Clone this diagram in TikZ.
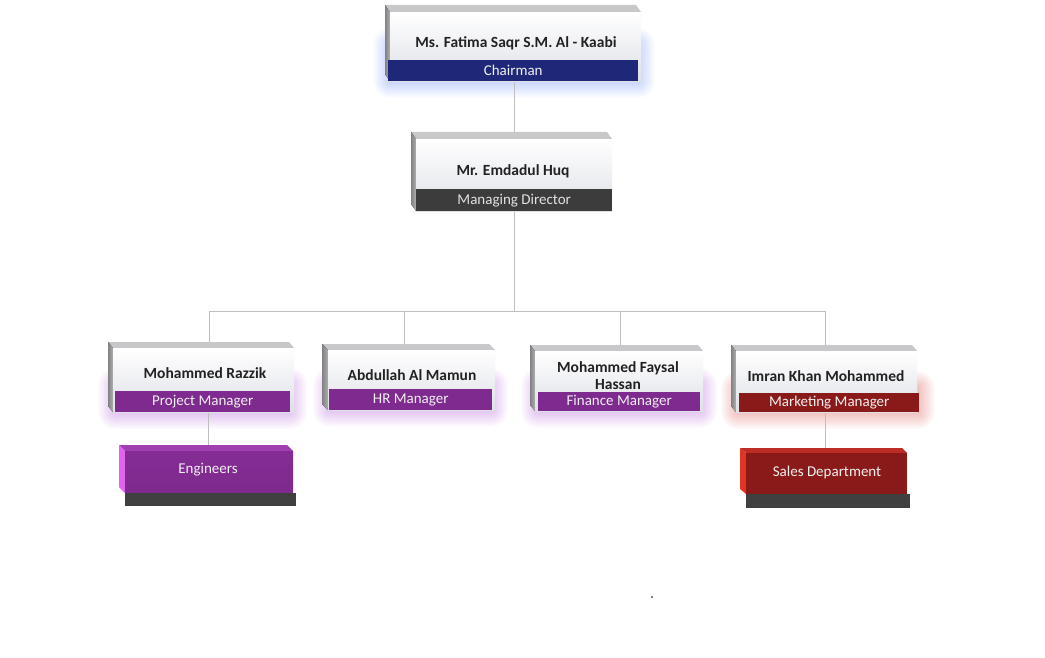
\documentclass[tikz,border=0pt]{standalone}
\usepackage{fontspec}
\setmainfont{Carlito}
\definecolor{navy}{RGB}{31,40,120}
\definecolor{mdgray}{RGB}{60,60,60}
\definecolor{purp}{RGB}{126,42,142}
\definecolor{purplight}{RGB}{160,64,176}
\definecolor{purppink}{RGB}{226,100,238}
\definecolor{darkred}{RGB}{138,26,26}
\definecolor{redlight}{RGB}{190,44,38}
\definecolor{redbright}{RGB}{226,52,36}
\definecolor{linegray}{RGB}{190,190,190}
\definecolor{nametext}{RGB}{34,34,34}
\definecolor{barsgray}{RGB}{64,64,64}
\definecolor{glowblue}{RGB}{110,150,255}
\definecolor{glowpurp}{RGB}{190,100,220}
\definecolor{glowred}{RGB}{240,90,80}
\tikzset{
  conn/.style={draw=linegray, line width=1pt},
  topface/.style={fill={rgb,255:red,200;green,200;blue,202}},
  leftface/.style={left color={rgb,255:red,130;green,130;blue,132}, right color={rgb,255:red,175;green,175;blue,178}},
  frontface/.style={top color=white, bottom color={rgb,255:red,222;green,224;blue,230}, inner sep=0pt, anchor=north west},
  nametxt/.style={font=\fontsize{15.5}{17}\selectfont\bfseries, text=nametext, align=center, inner sep=0pt},
  bandtxt/.style={font=\fontsize{15}{17}\selectfont, text={rgb,255:red,240;green,240;blue,240}, inner sep=0pt},
  band/.style={inner sep=0pt, anchor=north west},
}
% #1 name, #2 back-left x, #3 front-left x, #4 front-right x, #5 back-top y, #6 front-top y, #7 bottom y
\newcommand\cardshape[7]{%
  \fill[topface] (#2,#5) -- (#4-#3+#2,#5) -- (#4,#6) -- (#3,#6) -- cycle;
  \fill[leftface] (#2,#5) -- (#3,#6) -- (#3,#7) -- (#2,#7-#6+#5) -- cycle;
  \node[frontface, minimum width=#4pt-#3pt, minimum height=#7pt-#6pt] (#1) at (#3,#6) {};
}
% glow: x1 y1 x2 y2 colour
\newcommand\glowrect[5]{%
  \foreach \i in {1,...,14}{%
    \fill[#5, opacity=0.028, rounded corners={\i*1.2pt}] (#1-\i*1.2,#2-\i*1.2) rectangle (#3+\i*1.2,#4+\i*1.2);}%
}
\begin{document}
\begin{tikzpicture}[x=1pt, y=-1pt]
\useasboundingbox[fill=white] (0,0) rectangle (1045,658);

% glows
\glowrect{390}{45}{638}{81}{glowblue}
\glowrect{115}{385}{290}{412}{glowpurp}
\glowrect{330}{385}{491}{410}{glowpurp}
\glowrect{538}{385}{700}{411}{glowpurp}
\glowrect{738}{388}{918}{412}{glowred}

% connector points
\coordinate (busL) at (209,311);
\coordinate (busR) at (825,311);
\coordinate (busM) at (514,311);
\coordinate (c1top) at (209,342);
\coordinate (c2top) at (404,344);
\coordinate (c3top) at (620,345);
\coordinate (c4top) at (825,345);
\coordinate (engtop) at (208,445);
\coordinate (salestop) at (825,448);
\coordinate (c1bot) at (208,412);
\coordinate (c4bot) at (825,412);
\coordinate (chairbot) at (514,81);
\coordinate (mdtop) at (514,132);
\coordinate (mdbot) at (514,211);

% connectors
\draw[conn] (chairbot) -- (mdtop);
\draw[conn] (mdbot) -- (busM);
\draw[conn] (busL) -- (busR);
\draw[conn] (busL) -- (c1top);
\draw[conn] (c2top |- busL) -- (c2top);
\draw[conn] (c3top |- busL) -- (c3top);
\draw[conn] (busR) -- (c4top);
\draw[conn] (c1bot) -- (engtop);
\draw[conn] (c4bot) -- (salestop);

% Chairman
\cardshape{chair}{385}{390}{641}{5}{12}{81}
\node[band, fill=navy, minimum width=250pt, minimum height=21pt] (chairband) at (388,60) {};
\node[nametxt] (chairname) at (516,43) {Ms. Fatima Saqr S.M. Al - Kaabi};
\node[bandtxt] at (chairband.center) {Chairman};

% Managing Director
\cardshape{md}{411}{416}{612}{132}{139}{211}
\node[band, fill=mdgray, minimum width=196pt, minimum height=22pt] (mdband) at (416,189) {};
\node[nametxt] (mdname) at (513,171) {Mr. Emdadul Huq};
\node[bandtxt, text={rgb,255:red,225;green,225;blue,225}] at (mdband.center) {Managing Director};

% Project Manager
\cardshape{pm}{108}{113}{294}{342}{348}{412}
\node[band, fill=purp, minimum width=175pt, minimum height=21pt] (pmband) at (115,391) {};
\node[nametxt] (pmname) at (205,373) {Mohammed Razzik};
\node[bandtxt] at (pmband.center) {Project Manager};

% HR Manager
\cardshape{hr}{322}{328}{495}{344}{350}{410}
\node[band, fill=purp, minimum width=163pt, minimum height=21pt] (hrband) at (329,389) {};
\node[nametxt] (hrname) at (412,375) {Abdullah Al Mamun};
\node[bandtxt] at (hrband.center) {HR Manager};

% Finance Manager
\cardshape{fm}{530}{535}{703}{345}{351}{411}
\node[band, fill=purp, minimum width=162pt, minimum height=19pt] (fmband) at (538,392) {};
\node[nametxt] (fmname) at (618,376) {Mohammed Faysal\\Hassan};
\node[bandtxt] at (fmband.center) {Finance Manager};

% Marketing Manager
\cardshape{mm}{731}{736}{917}{345}{351}{412}
\node[band, fill=darkred, minimum width=180pt, minimum height=19pt] (mmband) at (739,393) {};
\node[nametxt] (mmname) at (826,376) {Imran Khan Mohammed};
\node[bandtxt] at (mmband.center) {Marketing Manager};

% Engineers
\fill[fill=purplight] (119,445) -- (287,445) -- (293,451) -- (125,451) -- cycle;
\fill[fill=purppink] (119,445) -- (125,451) -- (125,493) -- (119,487) -- cycle;
\node[band, top color={rgb,255:red,132;green,44;blue,148}, bottom color=purp, minimum width=168pt, minimum height=42pt] (eng) at (125,451) {};
\node[band, fill=barsgray, minimum width=171pt, minimum height=13pt] (engbar) at (125,493) {};
\node[bandtxt] at (208,470) {Engineers};

% Sales Department
\fill[fill=redlight] (740,448) -- (902,448) -- (907,453) -- (746,453) -- cycle;
\fill[fill=redbright] (740,448) -- (746,453) -- (746,494) -- (740,489) -- cycle;
\node[band, fill=darkred, minimum width=161pt, minimum height=41pt] (sales) at (746,453) {};
\node[band, fill=barsgray, minimum width=164pt, minimum height=14pt] (salesbar) at (746,494) {};
\node[bandtxt] at (827,472) {Sales Department};

% stray dot
\fill[gray] (651,596) rectangle (653,598);
\end{tikzpicture}
\end{document}
